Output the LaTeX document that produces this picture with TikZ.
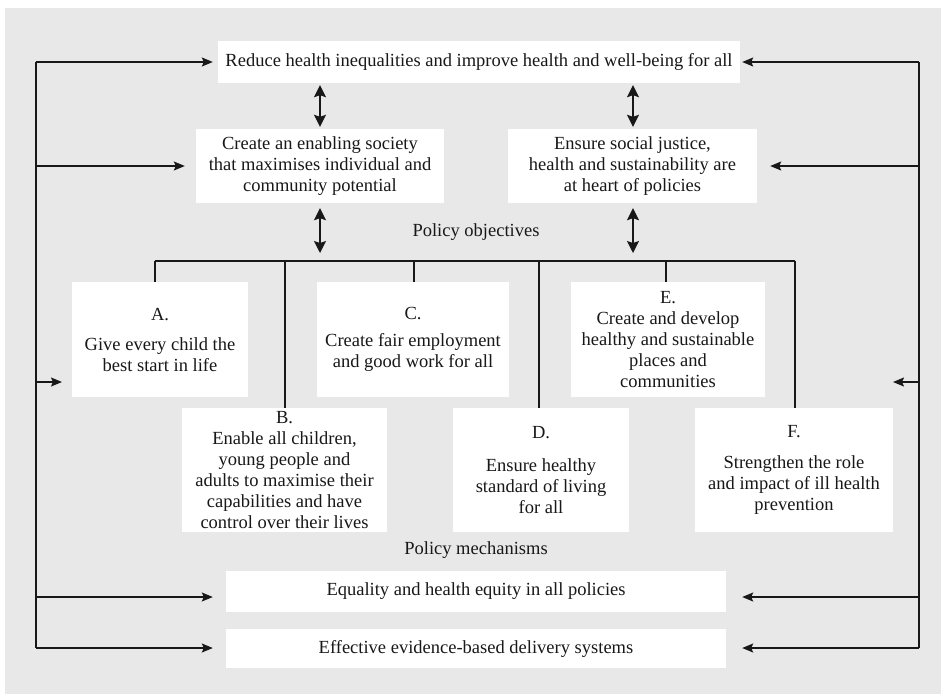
\documentclass[tikz,border=0pt]{standalone}
\usepackage{fontspec}
\setmainfont{Liberation Serif}
\usetikzlibrary{arrows.meta,calc}
\definecolor{bggray}{HTML}{E8E8E8}
\definecolor{ink}{HTML}{1A1718}
\tikzset{
  box/.style={fill=white, inner sep=0pt, align=center, text=ink},
  lbl/.style={inner sep=0pt, text=ink},
  ln/.style={draw=ink, line width=1.4pt},
  arr/.style={ln, -{Stealth[length=11pt,width=9pt,inset=2pt]}},
  darr/.style={ln, {Stealth[length=12pt,width=12pt,inset=2pt]}-{Stealth[length=12pt,width=12pt,inset=2pt]}},
  every node/.style={font=\fontsize{18.5pt}{21pt}\selectfont}
}
\begin{document}
\begin{tikzpicture}[x=1pt,y=-1pt]
\useasboundingbox (0,0) rectangle (941,694);
\fill[bggray] (5,8) rectangle (941,694);

% boxes
\node[box, minimum width=522pt, minimum height=42pt] (reduce) at (479,62)
  {Reduce health inequalities and improve health and well-being for all};
\node[box, minimum width=248pt, minimum height=74pt] (create) at (320,166)
  {Create an enabling society\\that maximises individual and\\community potential};
\node[box, minimum width=249pt, minimum height=74pt] (ensure) at (632.5,166)
  {Ensure social justice,\\health and sustainability are\\at heart of policies};
\node[box, minimum width=176pt, minimum height=115pt] (A) at (160,339.5)
  {A.\\[9pt]Give every child the\\best start in life};
\node[box, minimum width=205pt, minimum height=124pt] (B) at (284.5,470)
  {B.\\Enable all children,\\young people and\\adults to maximise their\\capabilities and have\\control over their lives};
\node[box, minimum width=192pt, minimum height=115pt] (C) at (413,339.5)
  {C.\\[6pt]Create fair employment\\and good work for all};
\node[box, minimum width=176pt, minimum height=124pt] (D) at (541,470)
  {D.\\[12pt]Ensure healthy\\standard of living\\for all};
\node[box, minimum width=194pt, minimum height=115pt] (E) at (668,339.5)
  {E.\\Create and develop\\healthy and sustainable\\places and\\communities};
\node[box, minimum width=198pt, minimum height=124pt] (F) at (794,470)
  {F.\\[10pt]Strengthen the role\\and impact of ill health\\prevention};
\node[box, minimum width=500pt, minimum height=41pt] (equal) at (476,591.5)
  {Equality and health equity in all policies};
\node[box, minimum width=500pt, minimum height=39pt] (deliv) at (476,648.5)
  {Effective evidence-based delivery systems};

\node[lbl] (pobj) at (476,232) {Policy objectives};
\node[lbl] (pmech) at (476,550) {Policy mechanisms};

% left trunk
\coordinate (L1) at (36,62);
\coordinate (L2) at (36,166);
\coordinate (L3) at (36,382);
\coordinate (L4) at (36,597);
\coordinate (L5) at (36,648);
\coordinate (tA) at (62,382);
\draw[ln] (L1) -- (L5);
\draw[arr] (L1) -- ($(L1 -| reduce.west)+(-5pt,0pt)$);
\draw[arr] (L2) -- ($(L2 -| create.west)+(-11pt,0pt)$);
\draw[arr] (L3) -- (tA);
\draw[arr] (L4) -- ($(L4 -| equal.west)+(-13pt,0pt)$);
\draw[arr] (L5) -- ($(L5 -| deliv.west)+(-13pt,0pt)$);

% right trunk
\coordinate (R1) at (919,62);
\coordinate (R2) at (919,166);
\coordinate (R3) at (919,382);
\coordinate (R4) at (919,597);
\coordinate (R5) at (919,648);
\coordinate (tE) at (893,382);
\draw[ln] (R1) -- (R5);
\draw[arr] (R1) -- ($(R1 -| reduce.east)+(2pt,0pt)$);
\draw[arr] (R2) -- ($(R2 -| ensure.east)+(13pt,0pt)$);
\draw[arr] (R3) -- (tE);
\draw[arr] (R4) -- ($(R4 -| equal.east)+(16pt,0pt)$);
\draw[arr] (R5) -- ($(R5 -| deliv.east)+(16pt,0pt)$);

% double arrows
\coordinate (cx1) at (320,0);
\coordinate (cx2) at (633,0);
\coordinate (bus1) at (155,261);
\coordinate (bus2) at (795,261);
\draw[darr] ($(reduce.south -| cx1)+(0pt,-2pt)$) -- ($(create.north -| cx1)+(0pt,2pt)$);
\draw[darr] ($(reduce.south -| cx2)+(0pt,-2pt)$) -- ($(ensure.north -| cx2)+(0pt,2pt)$);
\draw[darr] ($(create.south -| cx1)+(0pt,-5pt)$) -- ($(bus1 -| cx1)+(0pt,8pt)$);
\draw[darr] ($(ensure.south -| cx2)+(0pt,-5pt)$) -- ($(bus1 -| cx2)+(0pt,8pt)$);

% bus and branches
\draw[ln] (bus1) -- (bus2);
\coordinate (bA) at (155,261);
\coordinate (bB) at (285,261);
\coordinate (bC) at (414,261);
\coordinate (bD) at (539,261);
\coordinate (bE) at (666,261);
\coordinate (bF) at (795,261);
\draw[ln] (bA) -- (bA |- A.north);
\draw[ln] (bB) -- (bB |- B.north);
\draw[ln] (bC) -- (bC |- C.north);
\draw[ln] (bD) -- (bD |- D.north);
\draw[ln] (bE) -- (bE |- E.north);
\draw[ln] (bF) -- (bF |- F.north);
\end{tikzpicture}
\end{document}
